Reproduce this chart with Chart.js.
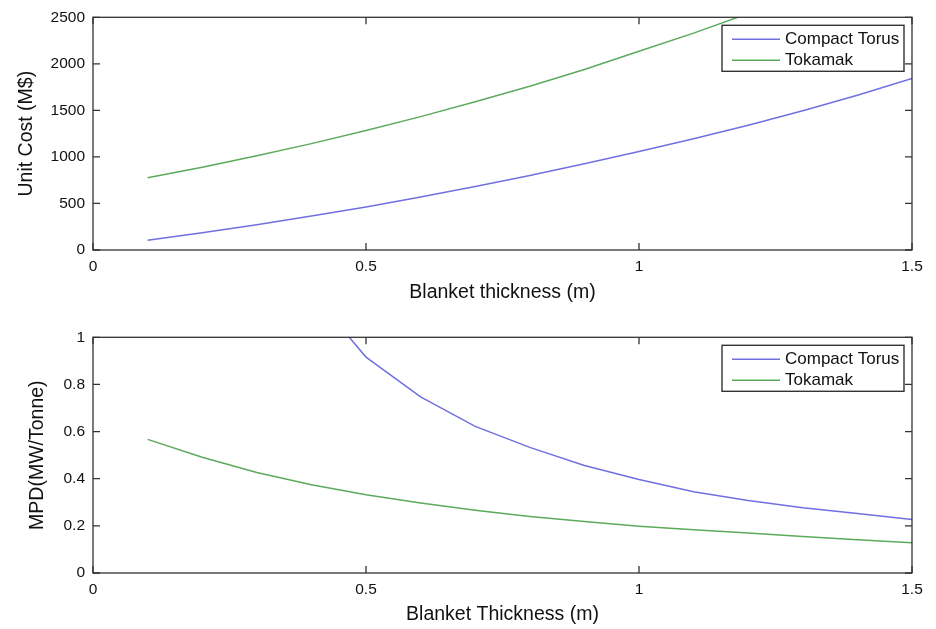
<!DOCTYPE html>
<html>
<head>
<meta charset="utf-8">
<script src="https://cdn.jsdelivr.net/npm/chart.js@4"></script>
<style>
  html, body { margin: 0; padding: 0; background: #fff; }
  #wrap { position: relative; width: 936px; height: 629px; }
  .box { position: absolute; left: 0; width: 936px; }
</style>
</head>
<body>
<div id="wrap">
  <div class="box" style="top:0;height:320px"><canvas id="costChart"></canvas></div>
  <div class="box" style="top:320px;height:309px"><canvas id="mpdChart"></canvas></div>
</div>
<script>
// blanket thickness (m)
const thickness = [0.1, 0.2, 0.3, 0.4, 0.5, 0.6, 0.7, 0.8, 0.9, 1.0, 1.1, 1.2, 1.3, 1.4, 1.5];

// unit cost (M$)
const costCompact = [106, 186, 272, 365, 462, 570, 682, 801, 926, 1058, 1196, 1341, 1495, 1662, 1843];
const costTokamak = [776, 890, 1012, 1143, 1284, 1433, 1592, 1760, 1940, 2135, 2330, 2540, null, null, null];

// MPD (MW/Tonne)
const mpdCompact = [null, null, null, 1.19, 0.916, 0.747, 0.622, 0.533, 0.456, 0.397, 0.345, 0.308, 0.277, 0.252, 0.227];
const mpdTokamak = [0.567, 0.491, 0.426, 0.374, 0.332, 0.297, 0.266, 0.24, 0.218, 0.198, 0.183, 0.17, 0.155, 0.141, 0.128];

const xTicks = [0, 0.5, 1, 1.5];
const seriesNames = ['Compact Torus', 'Tokamak'];

const FONT = '"Liberation Sans", Arial, Helvetica, sans-serif';
const INK = '#111';
const BLUE = '#7070e0';
const GREEN = '#5caa5c';

function pts(ys) {
  return thickness.map((x, i) => ({ x: x, y: ys[i] }));
}

// matlab-ish box: frame, inward ticks on all sides, framed legend inside
const matlabBox = {
  id: 'matlabBox',
  afterDatasetsDraw(chart) {
    const ctx = chart.ctx;
    const a = chart.chartArea;
    const xs = chart.scales.x, ys = chart.scales.y;
    const tl = 7;
    ctx.save();
    ctx.strokeStyle = '#333';
    ctx.lineWidth = 1.3;
    ctx.strokeRect(a.left, a.top, a.right - a.left, a.bottom - a.top);
    ctx.beginPath();
    xs.ticks.forEach(t => {
      const px = xs.getPixelForValue(t.value);
      ctx.moveTo(px, a.bottom); ctx.lineTo(px, a.bottom - tl);
      ctx.moveTo(px, a.top); ctx.lineTo(px, a.top + tl);
    });
    ys.ticks.forEach(t => {
      const py = ys.getPixelForValue(t.value);
      ctx.moveTo(a.left, py); ctx.lineTo(a.left + tl, py);
      ctx.moveTo(a.right, py); ctx.lineTo(a.right - tl, py);
    });
    ctx.stroke();

    // legend
    const bw = 182, bh = 46;
    const bx = a.right - 8 - bw, by = a.top + 8;
    ctx.fillStyle = '#fff';
    ctx.fillRect(bx, by, bw, bh);
    ctx.lineWidth = 1.4;
    ctx.strokeStyle = '#333';
    ctx.strokeRect(bx, by, bw, bh);
    ctx.font = '17px ' + FONT;
    ctx.textBaseline = 'middle';
    chart.data.datasets.forEach((ds, i) => {
      const y = by + 14 + i * 21;
      ctx.strokeStyle = ds.borderColor;
      ctx.lineWidth = 1.4;
      ctx.beginPath();
      ctx.moveTo(bx + 10, y); ctx.lineTo(bx + 58, y);
      ctx.stroke();
      ctx.fillStyle = INK;
      ctx.fillText(ds.label, bx + 63, y);
    });
    ctx.restore();
  }
};

function makeChart(id, opts) {
  return new Chart(document.getElementById(id), {
    type: 'line',
    data: {
      datasets: [
        { label: seriesNames[0], data: pts(opts.a), borderColor: BLUE, borderWidth: 1.5, pointRadius: 0, tension: 0 },
        { label: seriesNames[1], data: pts(opts.b), borderColor: GREEN, borderWidth: 1.5, pointRadius: 0, tension: 0 }
      ]
    },
    options: {
      responsive: true,
      maintainAspectRatio: false,
      animation: false,
      events: [],
      layout: { padding: { top: opts.padTop, right: 24, left: 0, bottom: 0 } },
      plugins: { legend: { display: false }, tooltip: { enabled: false } },
      scales: {
        x: {
          type: 'linear', min: 0, max: 1.5,
          afterBuildTicks: s => { s.ticks = xTicks.map(v => ({ value: v })); },
          afterFit: s => { s.height = opts.xH; },
          grid: { display: false, drawTicks: false },
          border: { display: false },
          ticks: { color: INK, font: { family: FONT, size: 15.5 }, padding: 7, maxRotation: 0,
                   callback: v => String(+v.toFixed(2)) },
          title: { display: true, text: opts.xTitle, color: INK, font: { family: FONT, size: 19.5 },
                   padding: { top: opts.xTitlePad, bottom: opts.xTitlePad } }
        },
        y: {
          min: 0, max: opts.yMax,
          afterBuildTicks: s => { s.ticks = opts.yTicks.map(v => ({ value: v })); },
          afterFit: s => { s.width = 93; },
          grid: { display: false, drawTicks: false },
          border: { display: false },
          ticks: { color: INK, font: { family: FONT, size: 15.5 }, padding: 8,
                   callback: v => String(+v.toFixed(2)) },
          title: { display: true, text: opts.yTitle, color: INK, font: { family: FONT, size: 19.5 },
                   padding: { top: opts.yTitlePad, bottom: opts.yTitlePad } }
        }
      }
    },
    plugins: [matlabBox]
  });
}

makeChart('costChart', {
  a: costCompact, b: costTokamak,
  yMax: 2500, yTicks: [0, 500, 1000, 1500, 2000, 2500],
  padTop: 14, xH: 70, xTitlePad: 16, yTitlePad: 15,
  xTitle: 'Blanket thickness (m)', yTitle: 'Unit Cost (M$)'
});

makeChart('mpdChart', {
  a: mpdCompact, b: mpdTokamak,
  yMax: 1, yTicks: [0, 0.2, 0.4, 0.6, 0.8, 1],
  padTop: 16, xH: 56, xTitlePad: 3, yTitlePad: 26,
  xTitle: 'Blanket Thickness (m)', yTitle: 'MPD(MW/Tonne)'
});
</script>
</body>
</html>
